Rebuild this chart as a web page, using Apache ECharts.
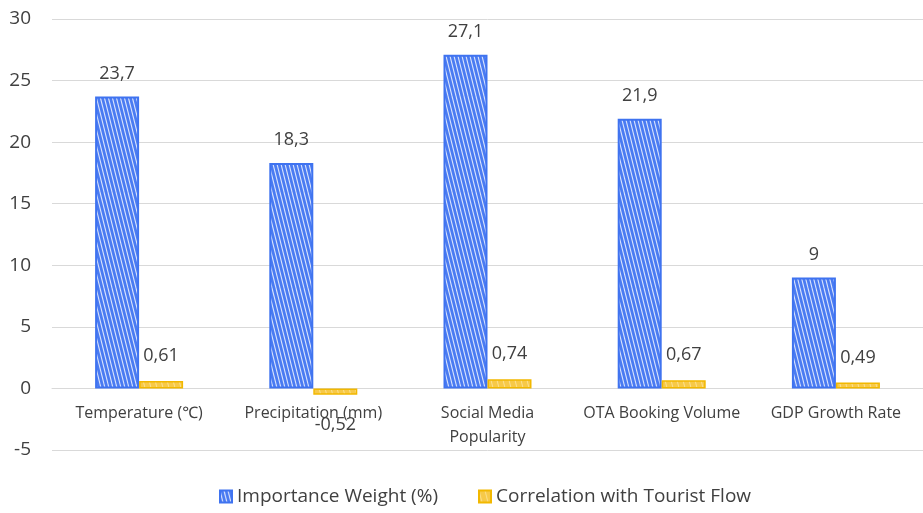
<!DOCTYPE html>
<html><head><meta charset="utf-8">
<script src="https://cdn.jsdelivr.net/npm/echarts@6/dist/echarts.min.js"></script>
<style>html,body{margin:0;padding:0;background:#fff}#c{width:923px;height:513px}</style>
</head><body><div id="c"></div>
<script>
const categories = ['Temperature (℃)', 'Precipitation (mm)', 'Social Media\nPopularity', 'OTA Booking Volume', 'GDP Growth Rate'];
const importanceWeight = [23.7, 18.3, 27.1, 21.9, 9];
const correlation = [0.61, -0.52, 0.74, 0.67, 0.49];
const seriesNames = ['Importance Weight (%)', 'Correlation with Tourist Flow'];
const yMin = -5, yMax = 30, yStep = 5;

function hatch(bg, fg, step, w) {
  const c = document.createElement('canvas');
  c.width = 24; c.height = 96;
  const g = c.getContext('2d');
  g.fillStyle = bg; g.fillRect(0, 0, 24, 96);
  g.strokeStyle = fg; g.lineWidth = w;
  for (let x = -48; x < 48; x += step) {
    g.beginPath(); g.moveTo(x, 0); g.lineTo(x + 24, 96); g.stroke();
  }
  return c;
}
const bluePat = { image: hatch('#4a7bf2', 'rgba(255,255,255,0.8)', 4, 1.1), repeat: 'repeat' };
const yellowPat = { image: hatch('#f7c948', 'rgba(255,240,190,0.6)', 6, 1), repeat: 'repeat' };
const fmt = p => String(p.value).replace('.', ',');
const font = '"Open Sans","Noto Sans",sans-serif';

const gridTop = 19, gridBottom = 63, H = 513;
const plotH = H - gridTop - gridBottom;
const zeroOffset = plotH * (0 - yMin) / (yMax - yMin);

const chart = echarts.init(document.getElementById('c'));
chart.setOption({
  animation: false,
  textStyle: { fontFamily: font },
  grid: { left: 52, right: 0, top: gridTop, bottom: gridBottom, containLabel: false },
  legend: {
    bottom: 2, left: 214, itemWidth: 12, itemHeight: 12, itemGap: 40,
    textStyle: { fontSize: 19, color: '#404040', fontFamily: font },
    data: [{ name: seriesNames[0], icon: 'rect' }, { name: seriesNames[1], icon: 'rect' }]
  },
  xAxis: {
    type: 'category', data: categories, offset: -zeroOffset,
    axisLine: { onZero: false, lineStyle: { color: '#d9d9d9', width: 1 } },
    axisTick: { show: false },
    axisLabel: { fontSize: 16, color: '#404040', margin: 13, interval: 0, lineHeight: 24 }
  },
  yAxis: {
    type: 'value', min: yMin, max: yMax, interval: yStep,
    axisLine: { show: false }, axisTick: { show: false },
    axisLabel: { fontSize: 19, color: '#404040', margin: 21 },
    splitLine: { lineStyle: { color: '#d9d9d9' } }
  },
  series: [
    {
      name: seriesNames[0], type: 'bar', data: importanceWeight,
      barWidth: 44, barGap: '0%',
      itemStyle: { color: bluePat, borderColor: '#3f73f0', borderWidth: 2 },
      label: { show: true, position: 'top', distance: 14, fontSize: 18, color: '#404040', formatter: fmt }
    },
    {
      name: seriesNames[1], type: 'bar',
      data: correlation.map(v => v < 0 ? { value: v, label: { position: 'bottom', distance: 21 } } : v),
      barWidth: 44,
      itemStyle: { color: yellowPat, borderColor: '#f2b800', borderWidth: 1.5 },
      label: { show: true, position: 'top', distance: 16, fontSize: 18, color: '#404040', formatter: fmt }
    }
  ]
});
</script></body></html>
